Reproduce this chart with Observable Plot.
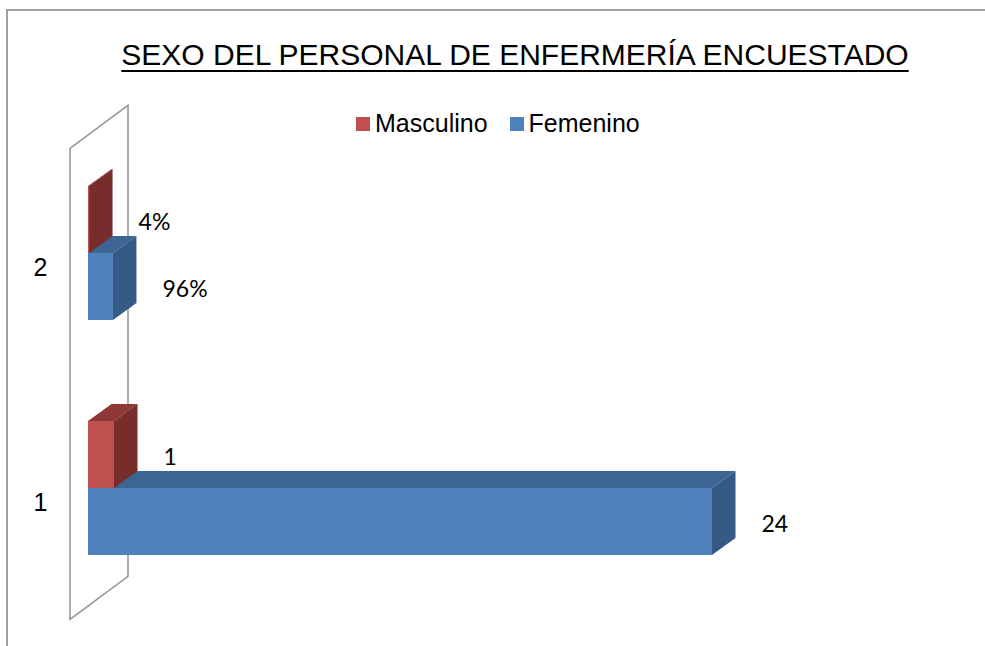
<!DOCTYPE html>
<html>
<head>
<meta charset="utf-8">
<script src="https://cdn.jsdelivr.net/npm/d3@7"></script>
<script src="https://cdn.jsdelivr.net/npm/@observablehq/plot@0.6"></script>
<style>
  html, body { margin: 0; padding: 0; background: #fff; }
  #wrap { position: relative; width: 985px; height: 646px; overflow: hidden; background: #fff; }
  #frame { position: absolute; left: 6px; top: 9px; width: 990px; height: 700px;
           border-top: 2px solid #a0a0a0; border-left: 2px solid #a0a0a0; }
  #chart { position: absolute; left: 0; top: 0; }
  #title { position: absolute; left: 0; width: 1030px; top: 38px; text-align: center;
           font-family: "Liberation Sans", Arial, sans-serif; font-size: 30px; color: #000;
           text-decoration: underline; text-decoration-thickness: 2px; text-underline-offset: 5px; }
  #legend { position: absolute; left: 356px; top: 109px; font-family: "Liberation Sans", Arial, sans-serif;
            font-size: 25px; color: #000; display: flex; align-items: center; white-space: nowrap; }
  .sw { display: inline-block; width: 14px; height: 14px; margin-right: 5px; }
  .item { display: flex; align-items: center; margin-right: 22px; }
</style>
</head>
<body>
<div id="wrap">
  <div id="frame"></div>
  <div id="chart"></div>
  <div id="title"></div>
  <div id="legend"></div>
</div>
<script>
// ---- data ----
const title = "SEXO DEL PERSONAL DE ENFERMERÍA ENCUESTADO";
const categories = ["1", "2"];
const seriesNames = ["Masculino", "Femenino"];
const masculino = [1, 0.04];
const femenino = [24, 0.96];
const labelsMasculino = ["1", "4%"];
const labelsFemenino = ["24", "96%"];

// ---- styles ----
const colors = {
  Masculino: {front: "#C0504D", top: "#8E3836", side: "#772D2B"},
  Femenino: {front: "#4F81BD", top: "#3D6594", side: "#355A86"}
};
const DX = 23.5, DY = -17;          // bar depth projection
const WALL_OFF = [-18, 13.3];        // wall front offset from bar front plane
const WALL_DEPTH = [58, -43];

const rows = [];
categories.forEach((c, i) => {
  rows.push({cat: c, series: "Masculino", value: masculino[i], label: labelsMasculino[i]});
  rows.push({cat: c, series: "Femenino", value: femenino[i], label: labelsFemenino[i]});
});

function wallMark() {
  return (index, scales) => {
    const {x, y} = scales;
    const [r0, r1] = y.range();
    const fx = x(0) + WALL_OFF[0];
    const pts = [
      [fx, r0 + WALL_OFF[1]],
      [fx + WALL_DEPTH[0], r0 + WALL_OFF[1] + WALL_DEPTH[1]],
      [fx + WALL_DEPTH[0], r1 + WALL_OFF[1] + WALL_DEPTH[1]],
      [fx, r1 + WALL_OFF[1]]
    ];
    const g = d3.create("svg:g");
    g.append("polygon").attr("points", pts.map(p => p.join(",")).join(" "))
      .attr("fill", "none").attr("stroke", "#999").attr("stroke-width", 1.6);
    return g.node();
  };
}

function bars3d(seriesName) {
  return (index, scales) => {
    const {x, y} = scales;
    const bw = y.bandwidth ? y.bandwidth() : 134;
    const col = colors[seriesName];
    const g = d3.create("svg:g");
    rows.filter(r => r.series === seriesName).forEach(r => {
      const x0 = x(0), x1 = x(r.value);
      const yTop = y(r.cat) + (seriesName === "Masculino" ? 0 : bw / 2);
      const yBot = yTop + bw / 2;
      const poly = (pts, fill) => g.append("polygon")
        .attr("points", pts.map(p => p.join(",")).join(" ")).attr("fill", fill);
      poly([[x0, yTop], [x1, yTop], [x1 + DX, yTop + DY], [x0 + DX, yTop + DY]], col.top);
      poly([[x1, yTop], [x1 + DX, yTop + DY], [x1 + DX, yBot + DY], [x1, yBot]], col.side);
      g.append("rect").attr("x", x0).attr("y", yTop).attr("width", Math.max(0, x1 - x0))
        .attr("height", yBot - yTop).attr("fill", col.front);
    });
    return g.node();
  };
}

const catRows = categories.map(c => ({cat: c, x: 0}));

const plot = Plot.plot({
  width: 985,
  height: 646,
  marginLeft: 88, marginRight: 273, marginTop: 135, marginBottom: 40,
  style: {background: "transparent", overflow: "visible"},
  x: {domain: [0, 24], range: [88, 712], axis: null},
  y: {type: "band", domain: ["2", "1"], range: [135, 606], paddingInner: 0.431, paddingOuter: 0.2155, align: 0.5, axis: null},
  marks: [
    wallMark(),
    bars3d("Femenino"),
    bars3d("Masculino"),
    Plot.text(catRows, {x: "x", y: "cat", text: "cat", dx: -48, dy: 14, textAnchor: "middle",
      fontSize: 25, fontFamily: "Liberation Sans, Arial, sans-serif", fill: "#000"}),
    Plot.text(rows.filter(r => r.series === "Masculino"), {x: "value", y: "cat", text: "label",
      dx: 49, dy: -31, textAnchor: "start", fontSize: 23, fontFamily: "Lato, sans-serif", fill: "#000"}),
    Plot.text(rows.filter(r => r.series === "Femenino"), {x: "value", y: "cat", text: "label",
      dx: 49, dy: 36, textAnchor: "start", fontSize: 23, fontFamily: "Lato, sans-serif", fill: "#000"})
  ]
});
document.getElementById("chart").appendChild(plot);

document.getElementById("title").textContent = title;
const legend = d3.select("#legend");
seriesNames.forEach(s => {
  const it = legend.append("span").attr("class", "item");
  it.append("span").attr("class", "sw").style("background", colors[s].front);
  it.append("span").text(s);
});
</script>
</body>
</html>
